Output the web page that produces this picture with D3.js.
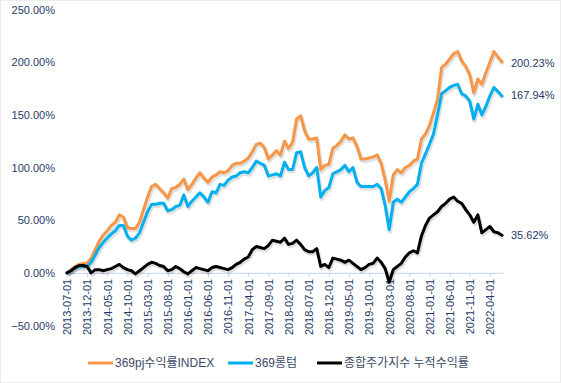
<!DOCTYPE html>
<html><head><meta charset="utf-8">
<script src="https://cdn.jsdelivr.net/npm/d3@7"></script>
<style>body{margin:0;background:#fff}svg{display:block}</style>
</head><body><svg id="c" width="561" height="383"></svg>
<script>
const startMonth = "2013-07-01", endMonth = "2022-07-01";
const tickLabels = ["2013-07-01","2013-12-01","2014-05-01","2014-10-01","2015-03-01","2015-08-01","2016-01-01","2016-06-01","2016-11-01","2017-04-01","2017-09-01","2018-02-01","2018-07-01","2018-12-01","2019-05-01","2019-10-01","2020-03-01","2020-08-01","2021-01-01","2021-06-01","2021-11-01","2022-04-01"];
const yTicks = [-50,0,50,100,150,200,250];
const seriesNames = ["369pj수익률INDEX","369롱텀","종합주가지수 누적수익률"];
const pjIndex = [0,3,6,8,9,9,14,22,30,36,40,45,48,55,53,43,42,42,48,60,72,82,84,80,76,71,80,81,84,89,79,84,90,95,90,86,91,93,96,95,97,102,104,104,106,109,115,122,123,119,108,112,116,112,125,118,124,146,149,135,127,127,128,98,102,103,118,121,125,131,127,128,120,108,108,109,110,112,104,88,68,93,98,95,100,102,106,108,127,132,140,152,165,195,198,203,208,210,201,196,188,171,184,179,190,200,210,205,200.23];
const longTerm = [0,2,5,6,6,6,10,17,24,29,33,37,40,45,45,35,31,33,38,48,58,65,65,66,66,59,60,63,64,74,63,68,72,76,72,67,77,76,84,83,88,91,92,95,96,95,100,106,104,102,92,93,94,92,105,98,98,114,115,100,92,95,100,72,78,81,94,96,98,102,96,100,86,82,82,82,82,84,80,64,41,67,70,67,72,77,80,84,104,113,122,132,150,170,173,176,178,179,170,168,163,146,160,150,158,168,176,172,167.94];
const kospi = [0,2,5,7,7,6,0,3,3,2,3,4,6,8,5,3,2,-1,2,5,8,10,9,7,6,2,3,6,4,1,-1,2,5,4,3,2,5,6,5,4,3,5,8,10,13,15,22,25,24,23,26,31,30,29,33,27,28,31,27,22,20,20,23,6,8,5,14,13,12,10,12,9,6,3,5,8,9,14,10,4,-9,3,6,9,15,19,21,19,35,45,52,55,58,63,66,70,72,68,66,60,55,48,55,38,41,44,39,38,35.62];
const colors = ["#f79646","#00b0f0","#000000"];

const parse = d3.timeParse("%Y-%m-%d");
const months = d3.timeMonth.range(parse(startMonth), d3.timeMonth.offset(parse(endMonth),1));
const fmt = d3.timeFormat("%Y-%m-%d");
const svg = d3.select("#c");
svg.append("rect").attr("x",0.5).attr("y",0.5).attr("width",560).attr("height",382)
  .attr("fill","#fff").attr("stroke","#d9d9d9").attr("stroke-dasharray","1,1");

const x = d3.scalePoint().domain(months.map(fmt)).range([67,502]);
const y = d3.scaleLinear().domain([-50,250]).range([325.5,9.5]);
const textCol = "#1f3a68";

// y axis labels
const ya = d3.axisLeft(y).tickValues(yTicks).tickSize(0).tickPadding(0).tickFormat(d=>d3.format(".2f")(d)+"%");
const yg = svg.append("g").attr("transform","translate(55,0)").call(ya);
yg.select(".domain").remove();
yg.selectAll("text").attr("font-family","Liberation Sans, Arial, sans-serif").attr("font-size",11).attr("fill",textCol);

// x axis
const xa = d3.axisBottom(x).tickValues(tickLabels).tickSize(4).tickSizeOuter(0).tickPadding(3);
const xg = svg.append("g").attr("transform",`translate(0,${y(0)})`).call(xa);
xg.select(".domain").attr("d","M64.5,0.5H503.5").attr("stroke","#c5d3ea");
xg.selectAll(".tick line").attr("stroke","#c5d3ea");
xg.selectAll("text").attr("font-family","Liberation Sans, Arial, sans-serif").attr("font-size",11).attr("fill",textCol)
  .attr("transform","rotate(-90)").attr("text-anchor","end").attr("x",-6).attr("y",0).attr("dy","0.35em");

const all = [pjIndex,longTerm,kospi];
const line = d3.line().x((d,i)=>x(fmt(months[i]))).y(d=>y(d));
// shadows
all.forEach((s,k)=>{
  svg.append("path").datum(s).attr("d",line).attr("fill","none").attr("stroke","rgba(0,0,0,0.12)")
    .attr("stroke-width",4).attr("stroke-linejoin","round").attr("transform","translate(1,2)");
});
all.forEach((s,k)=>{
  svg.append("path").datum(s).attr("d",line).attr("fill","none").attr("stroke",colors[k])
    .attr("stroke-width",3).attr("stroke-linejoin","round").attr("stroke-linecap","round");
});
// end labels
all.forEach((s,k)=>{
  const v = s[s.length-1];
  svg.append("text").attr("x",511).attr("y",y(v)+([1,-1,0][k])).attr("dy","0.35em")
    .attr("font-family","Liberation Sans, Arial, sans-serif").attr("font-size",11).attr("fill",textCol)
    .text(d3.format(".2f")(v)+"%");
});
// legend
const lx = [88,228,317];
seriesNames.forEach((n,k)=>{
  const g = svg.append("g").attr("transform",`translate(${lx[k]},363)`);
  g.append("line").attr("x1",0).attr("x2",25).attr("y1",0).attr("y2",0).attr("stroke",colors[k]).attr("stroke-width",3);
  g.append("text").attr("x",27).attr("dy","0.35em").attr("font-family","Liberation Sans, 'Noto Sans CJK KR', sans-serif")
    .attr("font-size",12).attr("fill","#3b4a66").text(n);
});
</script></body></html>
